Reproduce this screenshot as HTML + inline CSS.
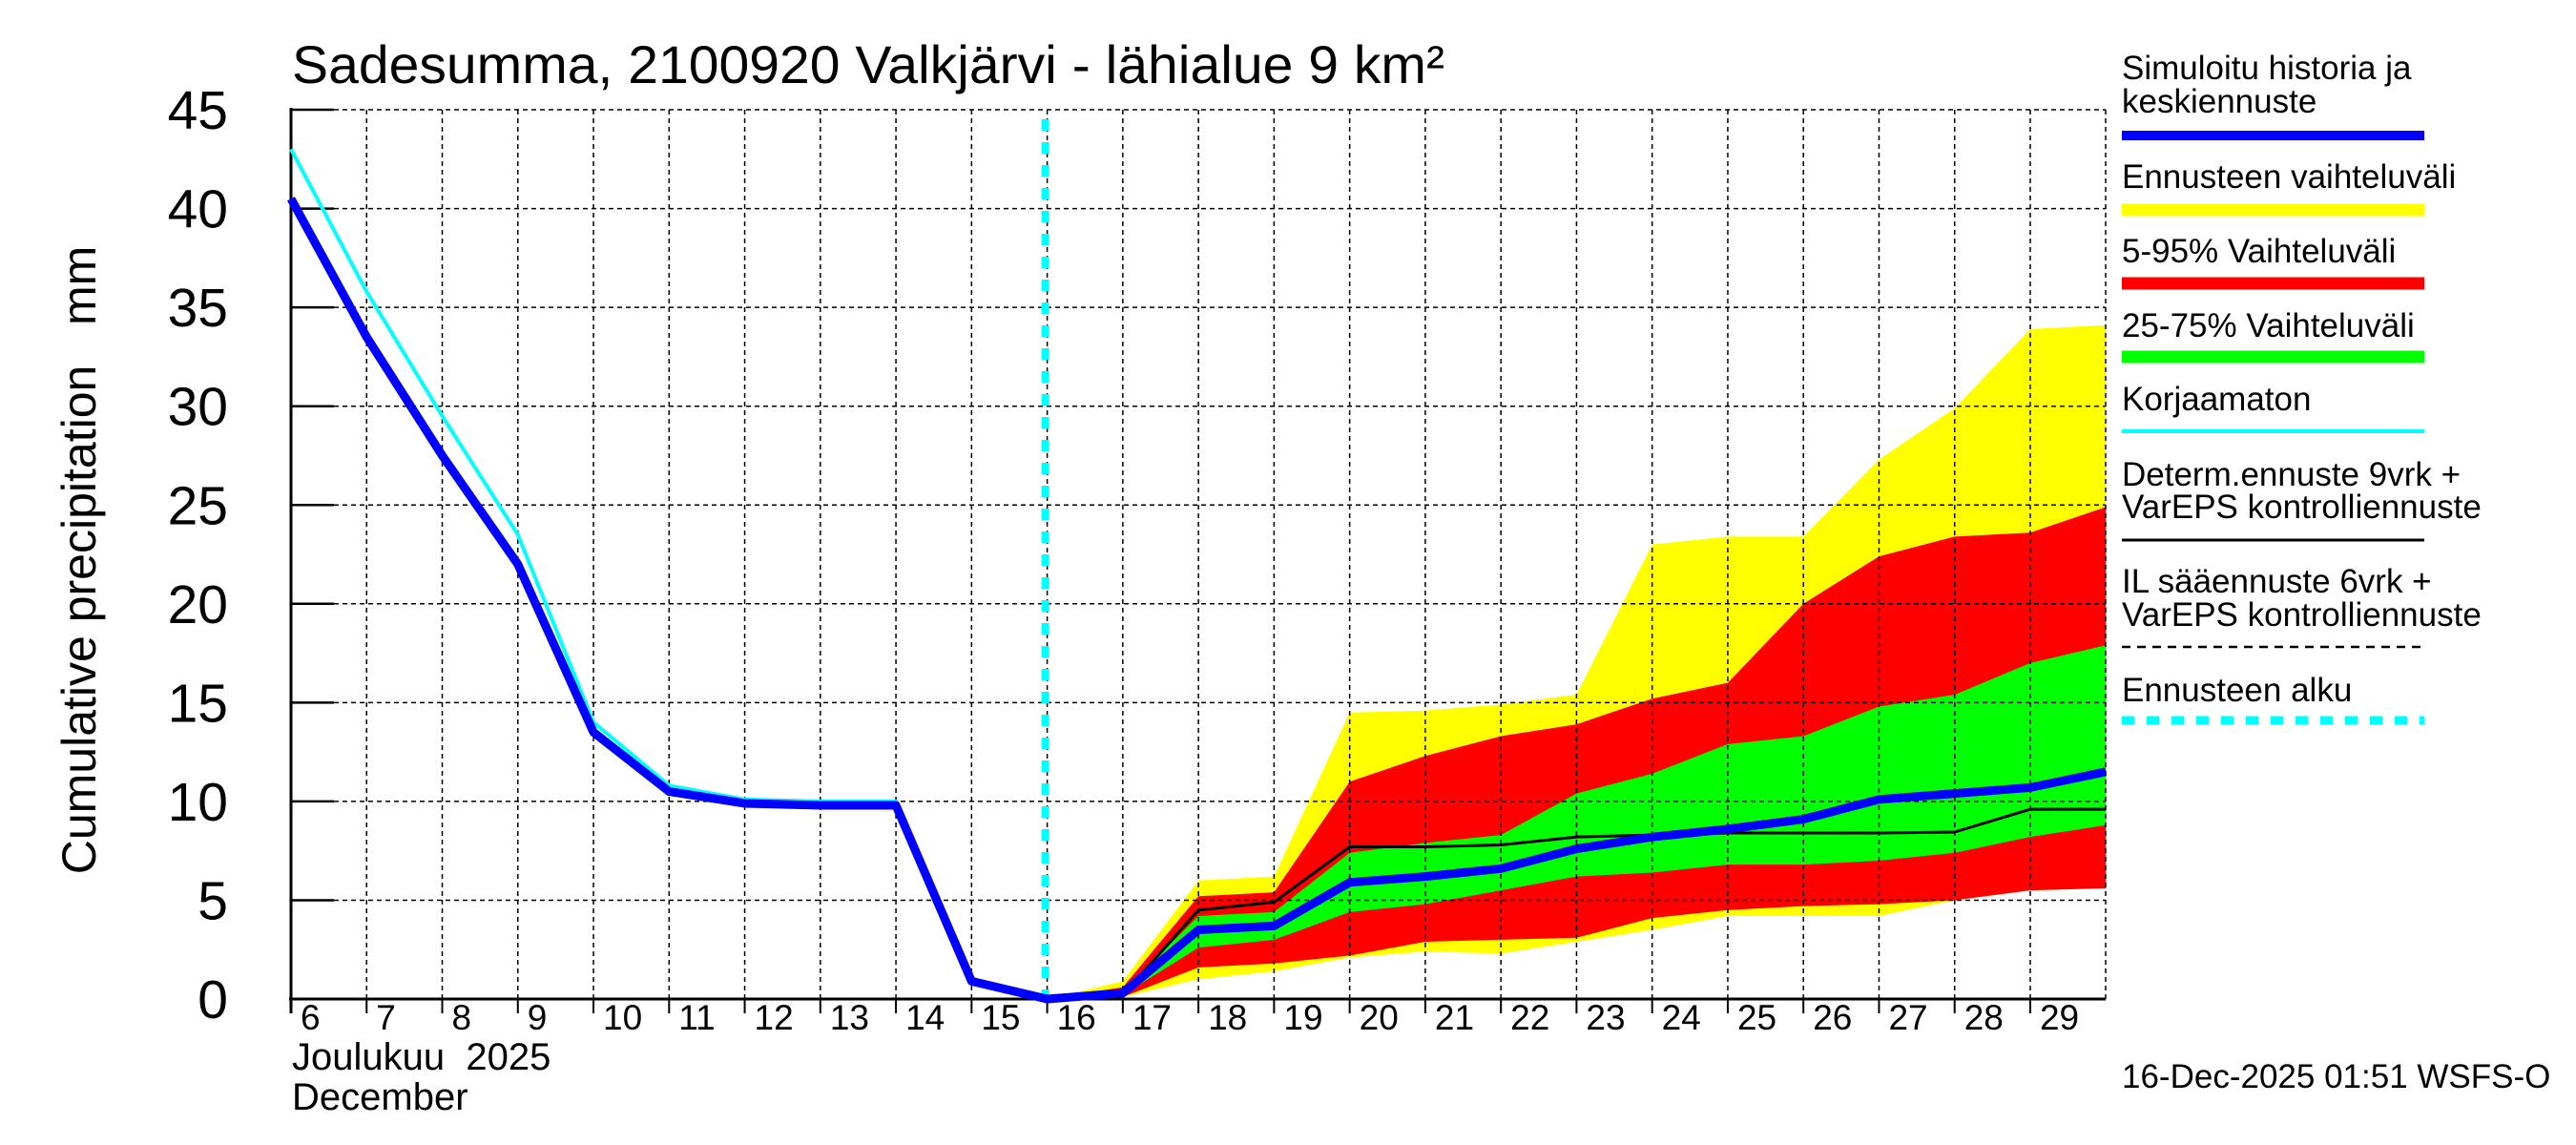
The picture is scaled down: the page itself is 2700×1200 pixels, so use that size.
<!DOCTYPE html>
<html><head><meta charset="utf-8"><style>
html,body{margin:0;padding:0;background:#fff;overflow:hidden;}
svg{display:block;font-family:"Liberation Sans",sans-serif;}
</style></head><body>
<svg id="s" width="2700" height="1200" viewBox="0 0 2700 1200" xmlns="http://www.w3.org/2000/svg">
<rect width="2700" height="1200" fill="#fff"/>
<g id="bands"></g>
<g id="grid" stroke="#000" stroke-width="1.5" stroke-dasharray="5,4" fill="none"></g>
<g id="lines"></g>
<text x="306" y="87" font-size="56" textLength="1208" lengthAdjust="spacingAndGlyphs">Sadesumma, 2100920 Valkjärvi - lähialue 9 km²</text>
<g font-size="57" text-anchor="end" id="yl"></g>
<text transform="translate(100,587) rotate(-90)" font-size="50" text-anchor="middle" xml:space="preserve">Cumulative precipitation   mm</text>
<g font-size="37" id="xl"></g>
<text x="306" y="1121" font-size="40" xml:space="preserve">Joulukuu  2025</text>
<text x="306" y="1163" font-size="40">December</text>
<g font-size="35" transform="translate(2224,0)" xml:space="preserve">
<text x="0" y="83">Simuloitu historia ja</text>
<text x="0" y="118">keskiennuste</text>
<text x="0" y="197">Ennusteen vaihteluväli</text>
<text x="0" y="275">5-95% Vaihteluväli</text>
<text x="0" y="353">25-75% Vaihteluväli</text>
<text x="0" y="430">Korjaamaton</text>
<text x="0" y="509">Determ.ennuste 9vrk +</text>
<text x="0" y="543">VarEPS kontrolliennuste</text>
<text x="0" y="621">IL sääennuste 6vrk  +</text>
<text x="0" y="656">  VarEPS kontrolliennuste</text>
<text x="0" y="735">Ennusteen alku</text>
<text x="0" y="1140">16-Dec-2025 01:51 WSFS-O</text>
</g>
<line x1="2224" y1="142" x2="2541" y2="142" stroke="#0000ff" stroke-width="10"/>
<line x1="2224" y1="220" x2="2541" y2="220" stroke="#ffff00" stroke-width="13"/>
<line x1="2224" y1="297" x2="2541" y2="297" stroke="#ff0000" stroke-width="13"/>
<line x1="2224" y1="374" x2="2541" y2="374" stroke="#00ff00" stroke-width="13"/>
<line x1="2224" y1="452" x2="2541" y2="452" stroke="#00ffff" stroke-width="4"/>
<line x1="2224" y1="566" x2="2541" y2="566" stroke="#000" stroke-width="3"/>
<line x1="2224" y1="678" x2="2541" y2="678" stroke="#000" stroke-width="2.5" stroke-dasharray="9,7"/>
<line x1="2224" y1="755" x2="2541" y2="755" stroke="#00ffff" stroke-width="9" stroke-dasharray="13,13"/>
</svg>
<script>
var NS="http://www.w3.org/2000/svg";
function X(d){return 305+(d-6)*79.26;}
function Y(v){return 1047-v*20.71;}
function el(p,t,a){var e=document.createElementNS(NS,t);for(var k in a)e.setAttribute(k,a[k]);document.getElementById(p).appendChild(e);return e;}
var days=[16,17,18,19,20,21,22,23,24,25,26,27,28,29,30];
function band(top,bot,c){var pts=[];for(var i=0;i<days.length;i++)pts.push(X(days[i])+","+Y(top[i]));for(var i=days.length-1;i>=0;i--)pts.push(X(days[i])+","+Y(bot[i]));el("bands","polygon",{points:pts.join(" "),fill:c});}
band([0,0.9,6.0,6.2,14.5,14.6,14.9,15.4,23.0,23.4,23.4,27.3,29.9,33.9,34.1],[0,0.1,1.0,1.4,2.1,2.4,2.3,2.9,3.5,4.2,4.2,4.2,5.0,5.5,5.6],"#ffff00");
band([0,0.6,5.2,5.4,11.0,12.3,13.3,13.9,15.2,16.0,20.0,22.4,23.4,23.6,24.9],[0,0.1,1.6,1.8,2.2,2.9,3.0,3.1,4.1,4.5,4.7,4.8,5.0,5.5,5.6],"#ff0000");
band([0,0.4,4.2,4.4,7.4,7.9,8.3,10.4,11.4,12.9,13.3,14.8,15.4,17.0,17.9],[0,0.2,2.6,3.0,4.4,4.8,5.5,6.2,6.4,6.8,6.8,7.0,7.4,8.2,8.8],"#00ff00");
for(var v=5;v<=45;v+=5)el("grid","line",{x1:305,x2:2207,y1:Y(v),y2:Y(v)});
for(var d=7;d<=29;d++)el("grid","line",{x1:X(d),x2:X(d),y1:Y(45),y2:1047});
el("grid","line",{x1:2207,x2:2207,y1:Y(45),y2:1047});
el("lines","line",{x1:305,x2:305,y1:Y(45)-2,y2:1062,stroke:"#000","stroke-width":3});
el("lines","line",{x1:303,x2:2207,y1:1047,y2:1047,stroke:"#000","stroke-width":3});
for(var v=0;v<=45;v+=5){el("lines","line",{x1:305,x2:350,y1:Y(v),y2:Y(v),stroke:"#000","stroke-width":2.5});
 var t=el("yl","text",{x:239,y:Y(v)+20});t.textContent=v;}
for(var d=6;d<=29;d++){el("lines","line",{x1:X(d),x2:X(d),y1:1047,y2:1062,stroke:"#000","stroke-width":2});
 var t=el("xl","text",{x:X(d)+10,y:1079});t.textContent=d;}
function line(ds,vs,c,w){var p=[];for(var i=0;i<ds.length;i++)p.push(X(ds[i])+","+Y(vs[i]));el("lines","polyline",{points:p.join(" "),fill:"none",stroke:c,"stroke-width":w,"stroke-linejoin":"round"});}
el("lines","line",{x1:X(16)-2,x2:X(16)-2,y1:Y(45)+10,y2:1047,stroke:"#00ffff","stroke-width":8,"stroke-dasharray":"12,12"});
line([6,7,8,9,10,11,12,13,14,15,16],[43,35.8,29.5,23.5,14,10.8,10.1,10.0,10.0,0.9,0],"#00ffff",4);
line([16,17,18,19,20,21,22,23,24,25,26,27,28,29,30],[0,0.2,4.5,4.9,7.7,7.7,7.8,8.2,8.3,8.4,8.4,8.4,8.45,9.6,9.6],"#000",3);
line([6,7,8,9,10,11,12,13,14,15,16,17,18,19,20,21,22,23,24,25,26,27,28,29,30],[40.5,33.5,27.5,22,13.5,10.5,9.9,9.8,9.8,0.9,0,0.3,3.5,3.7,5.9,6.2,6.6,7.6,8.2,8.6,9.1,10.1,10.4,10.7,11.5],"#0000ff",9);
</script>
</body></html>
